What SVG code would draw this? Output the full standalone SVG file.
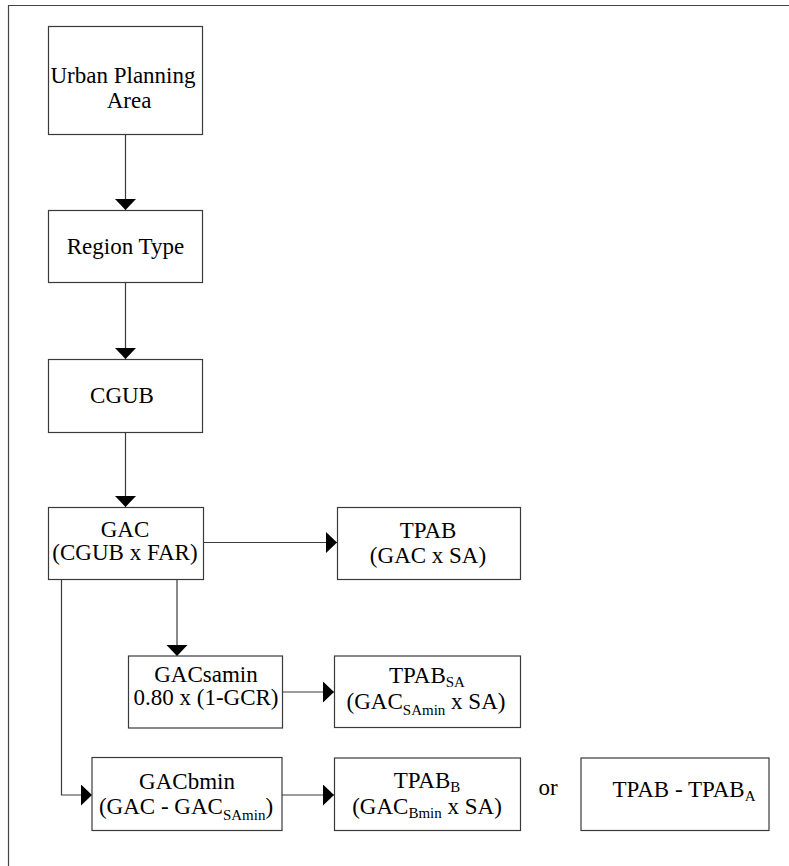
<svg xmlns="http://www.w3.org/2000/svg" width="789" height="866" viewBox="0 0 789 866">
<style>
.box{fill:#fff;stroke:#3a3a3a;stroke-width:1.2}
.t{font-family:"Liberation Serif","Times New Roman",serif;font-size:23px;fill:#000;text-anchor:middle}
.s{font-size:15px}
.c{fill:none;stroke:#3a3a3a;stroke-width:1.2}
.frame{fill:none;stroke:#444;stroke-width:1.2}
</style>
<defs>
<marker id="ah" markerUnits="userSpaceOnUse" markerWidth="12" markerHeight="22" refX="11" refY="10.5" orient="auto" viewBox="0 0 12 22">
<path d="M0,0 L11,10.5 L0,21 Z" fill="#000"/>
</marker>
</defs>
<rect width="789" height="866" fill="#fff"/>
<path class="frame" d="M8.5,866 V5.5 H789"/>
<g id="connectors">
<path class="c" d="M125.5,134 V210" marker-end="url(#ah)"/>
<path class="c" d="M125.5,283 V359" marker-end="url(#ah)"/>
<path class="c" d="M125.5,432 V507" marker-end="url(#ah)"/>
<path class="c" d="M203,542.5 H337" marker-end="url(#ah)"/>
<path class="c" d="M177,579 V656" marker-end="url(#ah)"/>
<path class="c" d="M61.5,579 V795 H92" marker-end="url(#ah)"/>
<path class="c" d="M283,692 H334" marker-end="url(#ah)"/>
<path class="c" d="M282,795 H334" marker-end="url(#ah)"/>
</g>
<g id="urban-planning-area">
<rect class="box" x="48.5" y="26.5" width="154" height="108"/>
<text class="t" x="123" y="83">Urban Planning</text>
<text class="t" x="129" y="108">Area</text>
</g>
<g id="region-type">
<rect class="box" x="48.5" y="210.5" width="154" height="72"/>
<text class="t" x="125.5" y="254">Region Type</text>
</g>
<g id="cgub">
<rect class="box" x="48.5" y="359.5" width="154" height="73"/>
<text class="t" x="122" y="403">CGUB</text>
</g>
<g id="gac">
<rect class="box" x="48.5" y="507.5" width="155" height="72"/>
<text class="t" x="125" y="536.5">GAC</text>
<text class="t" x="125" y="560">(CGUB x FAR)</text>
</g>
<g id="tpab">
<rect class="box" x="337.5" y="507.5" width="183" height="72"/>
<text class="t" x="428" y="538">TPAB</text>
<text class="t" x="428" y="563">(GAC x SA)</text>
</g>
<g id="gacsamin">
<rect class="box" x="128.5" y="656" width="154" height="72"/>
<text class="t" x="206" y="682">GACsamin</text>
<text class="t" x="206" y="705">0.80 x (1-GCR)</text>
</g>
<g id="tpab-sa">
<rect class="box" x="334.5" y="656" width="186" height="71.5"/>
<text class="t" x="427" y="683">TPAB<tspan class="s" dy="4">SA</tspan></text>
<text class="t" x="426" y="709">(GAC<tspan class="s" dy="6">SAmin</tspan><tspan dy="-6"> x SA)</tspan></text>
</g>
<g id="gacbmin">
<rect class="box" x="92" y="757.5" width="190" height="73"/>
<text class="t" x="187" y="788.5">GACbmin</text>
<text class="t" x="186" y="813.5">(GAC - GAC<tspan class="s" dy="6">SAmin</tspan><tspan dy="-6">)</tspan></text>
</g>
<g id="tpab-b">
<rect class="box" x="334.5" y="758" width="186" height="72.5"/>
<text class="t" x="427" y="787.5">TPAB<tspan class="s" dy="4">B</tspan></text>
<text class="t" x="427" y="813.5">(GAC<tspan class="s" dy="4">Bmin</tspan><tspan dy="-4"> x SA)</tspan></text>
</g>
<g id="or-label">
<text class="t" x="548" y="795">or</text>
</g>
<g id="tpab-diff">
<rect class="box" x="581" y="758" width="188" height="72.5"/>
<text class="t" x="684" y="797">TPAB - TPAB<tspan class="s" dy="4">A</tspan></text>
</g>
</svg>
